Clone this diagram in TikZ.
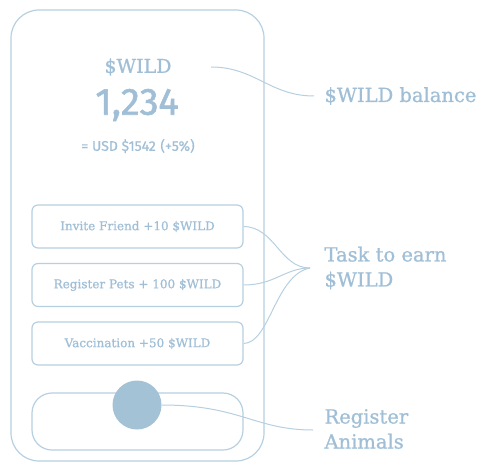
\documentclass[tikz,border=0pt]{standalone}
\usepackage{fontspec}
\setmainfont{DejaVu Serif}
\newfontfamily\slab[FakeBold=1.0]{DejaVu Serif}
\newfontfamily\numfont[FakeBold=1.6]{Fira Sans}
\newfontfamily\smallnum[FakeBold=0.8]{Fira Sans}
\definecolor{inkblue}{HTML}{A0BFD6}
\definecolor{lineblue}{HTML}{B6CFE1}
\definecolor{dotblue}{HTML}{A4C2D6}
\begin{document}
\begin{tikzpicture}[x=1pt,y=-1pt,
  outline/.style={draw=lineblue,line width=1.2pt},
  taskbox/.style={outline,rounded corners=6pt,minimum width=211pt,minimum height=43pt,
    text=inkblue,font=\slab\fontsize{12}{14}\selectfont},
  label/.style={text=inkblue,font=\slab\fontsize{19.5}{25}\selectfont,align=left,anchor=west},
  link/.style={draw=lineblue,line width=1pt}]
\useasboundingbox (0,0) rectangle (478,462);
% phone body
\draw[outline,rounded corners=28pt] (11,10) rectangle (264,461);
% balance
\node[text=inkblue,font=\slab\fontsize{19}{22}\selectfont] (ticker) at (138,67) {\$WILD};
\node[text=inkblue,font=\numfont\fontsize{38}{40}\selectfont] (amount) at (137,105) {1,234};
\node[text=inkblue,font=\smallnum\fontsize{14}{16}\selectfont] (usd) at (138,146) {= USD \$1542\,\,(+5\%)};
% tasks
\node[taskbox] (t1) at (137.5,226.5) {Invite Friend +10 \$WILD};
\node[taskbox] (t2) at (137.5,285) {Register Pets + 100 \$WILD};
\node[taskbox] (t3) at (137.5,343.5) {Vaccination +50 \$WILD};
% register button
\node[outline,rounded corners=20pt,minimum width=211pt,minimum height=57pt] (btn) at (137.5,421.5) {};
\node[circle,fill=dotblue,minimum size=49pt,inner sep=0pt] (dot) at (137,405) {};
% labels
\node[label] (lbal) at (321,96) {\$WILD balance};
\node[label] (ltask) at (321,268) {Task to earn\\\$WILD};
\node[label] (lreg) at (321,429) {Register\\Animals};
\coordinate (cbal) at (314,96);
\coordinate (ctask) at (310,268);
\coordinate (creg) at (313,430);
\coordinate (sbal) at (211,67);
% connectors
\draw[link] (sbal) .. controls (255,67) and (270,96) .. (cbal);
\draw[link] (t1.east) .. controls (275,227) and (280,268) .. (ctask);
\draw[link] (t2.east) .. controls (275,285) and (285,268) .. (ctask);
\draw[link] (t3.east) .. controls (270,343) and (275,275) .. (ctask);
\draw[link] (dot.east) .. controls (240,405) and (255,430) .. (creg);
\end{tikzpicture}
\end{document}
